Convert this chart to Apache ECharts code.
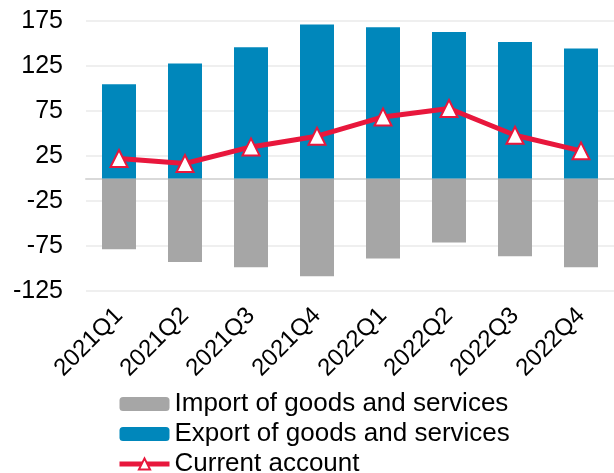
<!DOCTYPE html>
<html>
<head>
<meta charset="utf-8">
<script src="https://cdn.jsdelivr.net/npm/echarts@6/dist/echarts.min.js"></script>
<style>
  html, body { margin: 0; padding: 0; background: #ffffff; }
  #chart { width: 614px; height: 473px; }
</style>
</head>
<body>
<div id="chart"></div>
<script>
// Quarterly balance of payments components
const categories = ['2021Q1', '2021Q2', '2021Q3', '2021Q4', '2022Q1', '2022Q2', '2022Q3', '2022Q4'];
const importValues = [-78.6, -92.7, -98.6, -108.6, -88.9, -71.1, -86.3, -98.6];
const exportValues = [104.8, 127.8, 145.9, 171.1, 168.1, 162.9, 151.8, 144.4];
const currentAccount = [22.2, 16.7, 35.1, 47.0, 68.4, 77.8, 48.1, 30.7];
const yTicks = { min: -125, max: 175, interval: 50 };

const FONT = '"Liberation Sans", Arial, sans-serif';
const RED = '#e8173c';

const chart = echarts.init(document.getElementById('chart'), null, { renderer: 'canvas' });

chart.setOption({
  animation: false,
  backgroundColor: '#ffffff',
  grid: { left: 86, top: 21, width: 534, height: 270, containLabel: false },
  legend: {
    orient: 'vertical',
    left: 117,
    top: 391,
    height: 90,
    padding: 0,
    itemWidth: 50,
    itemHeight: 14,
    itemGap: 4,
    textStyle: { fontFamily: FONT, fontSize: 26, color: '#000000', padding: [0, 0, 0, 0], lineHeight: 25 },
    data: [
      { name: 'Import of goods and services' },
      { name: 'Export of goods and services' },
      { name: 'Current account', lineStyle: { width: 5 } }
    ]
  },
  xAxis: {
    type: 'category',
    data: categories,
    position: 'bottom',
    axisLine: { onZero: true, lineStyle: { color: '#d9d9d9', width: 2 } },
    axisTick: { show: false },
    axisLabel: {
      interval: 0,
      rotate: 45,
      margin: 21,
      fontFamily: FONT,
      fontSize: 24,
      color: '#000000'
    },
    splitLine: { show: false }
  },
  yAxis: {
    type: 'value',
    min: yTicks.min,
    max: yTicks.max,
    interval: yTicks.interval,
    axisLine: { show: false },
    axisTick: { show: false },
    axisLabel: { margin: 23, fontFamily: FONT, fontSize: 25, color: '#000000' },
    splitLine: { lineStyle: { color: '#efefef', width: 2 } }
  },
  series: [
    {
      name: 'Import of goods and services',
      type: 'bar',
      stack: 'trade',
      data: importValues,
      barWidth: 34,
      itemStyle: { color: '#a6a6a6' }
    },
    {
      name: 'Export of goods and services',
      type: 'bar',
      stack: 'trade',
      data: exportValues,
      barWidth: 34,
      itemStyle: { color: '#0087bb' }
    },
    {
      name: 'Current account',
      type: 'line',
      data: currentAccount,
      symbol: 'triangle',
      symbolSize: 17,
      z: 5,
      lineStyle: { color: RED, width: 5 },
      itemStyle: { color: '#ffffff', borderColor: RED, borderWidth: 2 }
    }
  ]
});
</script>
</body>
</html>
